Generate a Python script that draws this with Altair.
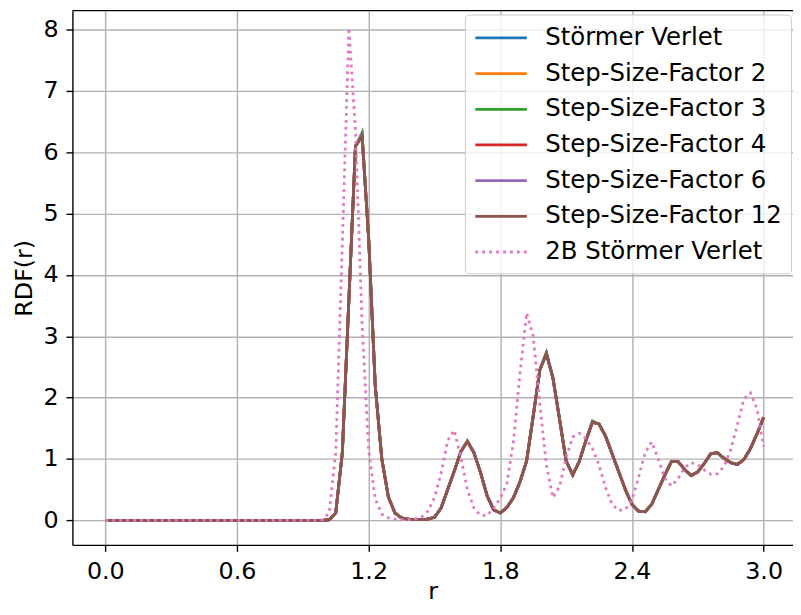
import altair as alt
import pandas as pd

# r grid (0.00 .. 3.00 in steps of 0.03)
r_vals = [round(0.03 * k, 2) for k in range(101)]

# Shared solid curve (all six solid series overlap)
solid_base = [0.0] * 34 + [
    0.01, 0.12, 1.10, 3.60, 6.10, 6.25, 4.60, 2.20, 1.00, 0.38,   # 1.02 .. 1.29
    0.12, 0.04, 0.02, 0.01, 0.01, 0.02, 0.05, 0.20, 0.50, 0.80,   # 1.32 .. 1.59
    1.12, 1.29, 1.10, 0.78, 0.40, 0.17, 0.12, 0.21, 0.37, 0.63,   # 1.62 .. 1.89
    0.97, 1.70, 2.45, 2.71, 2.32, 1.65, 0.97, 0.74, 0.96, 1.30,   # 1.92 .. 2.19
    1.60, 1.57, 1.37, 1.08, 0.79, 0.50, 0.26, 0.15, 0.14, 0.26,   # 2.22 .. 2.49
    0.50, 0.74, 0.96, 0.96, 0.83, 0.73, 0.79, 0.93, 1.09, 1.10,   # 2.52 .. 2.79
    1.01, 0.94, 0.91, 0.99, 1.17, 1.41, 1.68,                     # 2.82 .. 3.00
]

# small visible differences between the solid series (index -> value)
overrides = {
    "Störmer Verlet": {39: 6.28, 67: 2.72},
    "Step-Size-Factor 2": {39: 6.28, 67: 2.72},
    "Step-Size-Factor 3": {39: 6.32, 67: 2.74, 74: 1.62},
    "Step-Size-Factor 4": {39: 6.28, 67: 2.72},
    "Step-Size-Factor 6": {39: 6.28, 67: 2.72},
    "Step-Size-Factor 12": {},
}

dotted_2b = [0.0] * 33 + [
    0.01, 0.12, 1.10, 4.50, 8.03, 6.35, 3.20, 1.15, 0.35, 0.10,   # 0.99 .. 1.26
    0.04, 0.02, 0.01, 0.01, 0.02, 0.05, 0.15, 0.37, 0.76, 1.30,   # 1.29 .. 1.56
    1.47, 1.03, 0.50, 0.20, 0.08, 0.08, 0.20, 0.36, 0.60, 1.28,   # 1.59 .. 1.86
    2.40, 3.38, 3.00, 1.90, 0.90, 0.37, 0.55, 1.02, 1.36, 1.42,   # 1.89 .. 2.16
    1.33, 1.17, 0.90, 0.53, 0.26, 0.16, 0.18, 0.33, 0.70, 1.10,   # 2.19 .. 2.46
    1.28, 1.00, 0.68, 0.56, 0.68, 0.86, 0.94, 0.91, 0.82, 0.75,   # 2.49 .. 2.76
    0.76, 0.88, 1.15, 1.55, 1.98, 2.08, 1.82, 1.20,               # 2.79 .. 3.00
]

series_names = [
    "Störmer Verlet",
    "Step-Size-Factor 2",
    "Step-Size-Factor 3",
    "Step-Size-Factor 4",
    "Step-Size-Factor 6",
    "Step-Size-Factor 12",
    "2B Störmer Verlet",
]
series_colors = ["#1f77b4", "#ff7f0e", "#2ca02c", "#d62728", "#9467bd", "#8c564b", "#e377c2"]
series_dashes = [[1, 0]] * 6 + [[2.8, 4.2]]

x_ticks = [0.0, 0.6, 1.2, 1.8, 2.4, 3.0]
y_ticks = [0, 1, 2, 3, 4, 5, 6, 7, 8]

rows = []
for name in series_names:
    if name == "2B Störmer Verlet":
        vals = dotted_2b
    else:
        vals = list(solid_base)
        for i, v in overrides[name].items():
            vals[i] = v
    for rv, yv in zip(r_vals, vals):
        rows.append({"r": rv, "RDF": yv, "series": name})
df = pd.DataFrame(rows)

W, H = 727, 539
FS = 24

lines = alt.Chart(df).mark_line(strokeWidth=2.8, clip=False).encode(
    x=alt.X("r:Q", title="r",
            scale=alt.Scale(domain=[-0.15, 3.134], nice=False, zero=False),
            axis=alt.Axis(values=x_ticks, format=".1f", titlePadding=-3)),
    y=alt.Y("RDF:Q", title="RDF(r)",
            scale=alt.Scale(domain=[-0.4, 8.31], nice=False, zero=False),
            axis=alt.Axis(values=y_ticks, format="d", titlePadding=7)),
    color=alt.Color("series:N",
                    scale=alt.Scale(domain=series_names, range=series_colors),
                    sort=series_names,
                    legend=alt.Legend(
                        title=None, orient="none", legendX=396, legendY=4,
                        symbolType="M0,0H4", symbolSize=676, symbolStrokeWidth=2.8,
                        symbolOffset=-13,
                        labelFontSize=24.6, labelFont="DejaVu Sans", labelColor="black",
                        labelOffset=56, rowPadding=9, padding=9, labelLimit=400,
                        fillColor="rgba(255,255,255,0.8)", strokeColor="#cccccc",
                        cornerRadius=4)),
    strokeDash=alt.StrokeDash("series:N",
                              scale=alt.Scale(domain=series_names, range=series_dashes),
                              sort=series_names),
    detail="series:N",
)

spine_df = pd.DataFrame({"k": [0]})
top_spine = alt.Chart(spine_df).mark_rule(color="black", strokeWidth=1.4).encode(
    x=alt.value(0), x2=alt.value(W), y=alt.value(0)
)

chart = alt.layer(lines, top_spine).properties(
    width=W, height=H,
    autosize=alt.AutoSizeParams(type="none"),
    padding={"left": 65, "top": 0, "right": 0, "bottom": 60},
).configure_view(stroke=None).configure_axis(
    domainColor="black", domainWidth=1.4,
    tickColor="black", tickWidth=1.4, tickSize=6.5,
    labelPadding=8, labelFontSize=FS, labelFont="DejaVu Sans", labelColor="black",
    gridColor="#b0b0b0", gridWidth=1.4,
    titleFontSize=FS, titleFont="DejaVu Sans", titleFontWeight="normal", titleColor="black",
)

chart.save("out.html", embed_options={"renderer": "svg", "actions": False})
